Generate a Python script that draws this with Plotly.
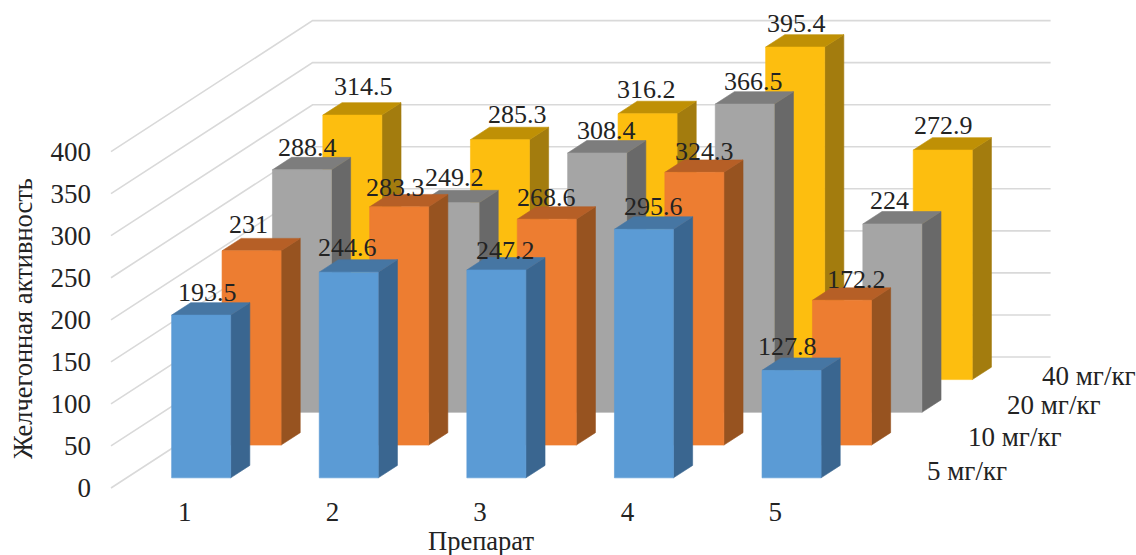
import plotly.graph_objects as go

# Chart content
preparations = ["1", "2", "3", "4", "5"]
doses = ["5 мг/кг", "10 мг/кг", "20 мг/кг", "40 мг/кг"]
dose_5 = [193.5, 244.6, 247.2, 295.6, 127.8]
dose_10 = [231, 283.3, 268.6, 324.3, 172.2]
dose_20 = [288.4, 249.2, 308.4, 366.5, 224]
dose_40 = [314.5, 285.3, 316.2, 395.4, 272.9]
series = [dose_5, dose_10, dose_20, dose_40]
value_ticks = [0, 50, 100, 150, 200, 250, 300, 350, 400]

# Face colours per series: front, top, side
front_colors = ["#5B9BD5", "#ED7D31", "#A5A5A5", "#FDBE0F"]
top_colors = ["#4676A3", "#B65F26", "#7D7D7D", "#BF9005"]
side_colors = ["#3A6690", "#975320", "#696969", "#A37C0E"]

# Hand-placed label nudges in pixels, per series and preparation
label_dx = [[-3, -10, 0, 1, -13], [-12, -13, -9, 1, 6], [-3, -4, 0, 0, -12], [2, 9, -10, -8, -8]]
label_dy = [[16, 18, 13, 17, 18], [20, 13, 15, 15, 15], [16, 19, 16, 16, 17], [22, 19, 18, 17, 18]]

# Oblique projection of the 3-D chart onto the 2-D axes
W, H = 1136, 555
LEFT, BOTTOM = 105, 62
SLOT_PX = 147.6          # width of one preparation slot
ORIGIN_X = 111           # pixel of the front-left floor corner
ORIGIN_Y = 488
PX_PER_VALUE = 0.841
DEPTH_X = 50.4 / SLOT_PX  # horizontal drift per dose row, in slots
DEPTH_Y = 38.94           # vertical drift per dose row, in value units
SLOT_NEAR, SLOT_FAR = 0.305, 0.705
ROW_NEAR, ROW_FAR = 0.31, 0.69
INK = "#232323"
FONT = "Liberation Serif"
TICK_SIZE = 27
VALUE_SIZE = 26
CAPTION_SIZE = 27
TITLE_SIZE = 26.5


def project(slot, depth, value):
    return slot + depth * DEPTH_X, value + depth * DEPTH_Y


def polygon(corners, color):
    pts = [project(*c) for c in corners]
    xs = [p[0] for p in pts] + [pts[0][0]]
    ys = [p[1] for p in pts] + [pts[0][1]]
    return go.Scatter(x=xs, y=ys, mode="lines", fill="toself", fillcolor=color,
                      line=dict(color=color, width=0.6), hoverinfo="skip", showlegend=False)


fig = go.Figure()

# Gridlines on the side wall and the back wall
for v in value_ticks:
    pts = [project(0, 0, v), project(0, 4, v), project(5, 4, v)]
    fig.add_trace(go.Scatter(x=[p[0] for p in pts], y=[p[1] for p in pts], mode="lines",
                             line=dict(color="#D9D9D9", width=1.6), hoverinfo="skip", showlegend=False))

# Bars, painted from the back row forward
for s in range(len(series) - 1, -1, -1):
    for i, v in enumerate(series[s]):
        l, r = i + SLOT_NEAR, i + SLOT_FAR
        n, f = s + ROW_NEAR, s + ROW_FAR
        fig.add_trace(polygon([(r, n, 0), (r, f, 0), (r, f, v), (r, n, v)], side_colors[s]))
        fig.add_trace(polygon([(l, n, v), (r, n, v), (r, f, v), (l, f, v)], top_colors[s]))
        fig.add_trace(polygon([(l, n, 0), (r, n, 0), (r, n, v), (l, n, v)], front_colors[s]))

annotations = []

# Value labels
for s, values in enumerate(series):
    for i, v in enumerate(values):
        x, y = project(i + 0.5, s + 0.5, v)
        annotations.append(dict(x=x, y=y, text=f"{v:g}", showarrow=False,
                                xshift=label_dx[s][i], yshift=label_dy[s][i],
                                xanchor="center", yanchor="middle",
                                font=dict(family=FONT, size=VALUE_SIZE, color=INK)))


def to_paper_x(px):
    return (px - LEFT) / (W - LEFT)


def to_paper_y(py):
    return 1 - py / (H - BOTTOM)


# Dose captions beside the floor
caption_centers = [(967, 470.5), (1015, 437), (1054, 405), (1089, 376)]
for name, (cx, cy) in zip(doses, caption_centers):
    annotations.append(dict(x=to_paper_x(cx), y=to_paper_y(cy), xref="paper", yref="paper",
                            text=name, showarrow=False, xanchor="center", yanchor="middle",
                            font=dict(family=FONT, size=CAPTION_SIZE, color=INK)))

# Axis titles
annotations.append(dict(x=to_paper_x(481), y=to_paper_y(541), xref="paper", yref="paper",
                        text="Препарат", showarrow=False, xanchor="center", yanchor="middle",
                        font=dict(family=FONT, size=TITLE_SIZE, color=INK)))
annotations.append(dict(x=to_paper_x(23), y=to_paper_y(319), xref="paper", yref="paper",
                        text="Желчегонная активность", textangle=-90, showarrow=False,
                        xanchor="center", yanchor="middle",
                        font=dict(family=FONT, size=TITLE_SIZE, color=INK)))

fig.update_layout(
    width=W, height=H,
    margin=dict(l=LEFT, r=0, t=0, b=BOTTOM, pad=0),
    paper_bgcolor="white", plot_bgcolor="white",
    showlegend=False,
    annotations=annotations,
    xaxis=dict(
        range=[(LEFT - ORIGIN_X) / SLOT_PX, (W - ORIGIN_X) / SLOT_PX],
        tickmode="array", tickvals=[i + 0.5 for i in range(5)], ticktext=preparations,
        showgrid=False, zeroline=False, showline=False, ticks="",
        tickfont=dict(family=FONT, size=TICK_SIZE, color=INK), fixedrange=True,
    ),
    yaxis=dict(
        range=[(ORIGIN_Y - (H - BOTTOM)) / PX_PER_VALUE, ORIGIN_Y / PX_PER_VALUE],
        tickmode="array", tickvals=value_ticks,
        showgrid=False, zeroline=False, showline=False, ticks="",
        ticklabelstandoff=13,
        tickfont=dict(family=FONT, size=TICK_SIZE, color=INK), fixedrange=True,
    ),
)

fig.write_html("out.html", config={"displayModeBar": False})
